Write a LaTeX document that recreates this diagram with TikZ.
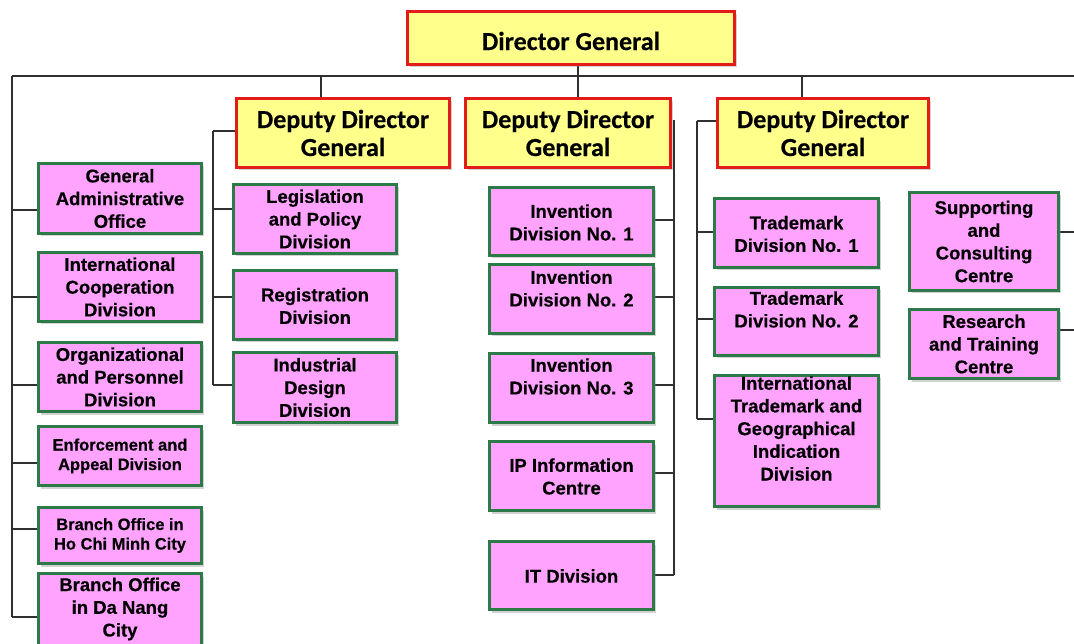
\documentclass[tikz,border=0pt]{standalone}
\usepackage{fontspec}
\setmainfont{Liberation Sans}[BoldFeatures={FakeBold=0.4}]
\newfontfamily\calfont{Carlito}[BoldFeatures={FakeBold=0.4}]
\usetikzlibrary{shadows,calc,backgrounds}
\definecolor{yfill}{HTML}{FFFF8C}
\definecolor{rborder}{HTML}{E41B1B}
\definecolor{pfill}{HTML}{FFA3FF}
\definecolor{gborder}{HTML}{2B7A47}
\definecolor{lineC}{HTML}{303030}
\tikzset{
 base/.style={rectangle, inner sep=0pt, outer sep=0pt, line width=3.2pt,
   drop shadow={opacity=0.35, shadow xshift=2.5pt, shadow yshift=-3pt}},
 ybox/.style={base, draw=rborder, fill=yfill},
 pbox/.style={base, draw=gborder, fill=pfill},
 ptext/.style={align=center, font=\fontsize{18.5}{22.7}\selectfont\bfseries, inner sep=0pt},
 stext/.style={align=center, font=\fontsize{16.5}{19.5}\selectfont\bfseries, inner sep=0pt},
 ytext/.style={align=center, font=\calfont\fontsize{26}{28}\selectfont\bfseries, inner sep=0pt},
 conn/.style={draw=lineC, line width=1.2pt},
}
\newcommand\orgbox[8]{%
 \node[#1, minimum width=#5pt, minimum height=#6pt] (#3) at (#4) {};
 \node[#2] (#3-t) at ($(#3.center)+(0,#7)$) {#8};}
\begin{document}
\begin{tikzpicture}[x=1pt,y=-1pt]
\useasboundingbox (0,0) rectangle (1074,644);

% boxes
\orgbox{ybox}{ytext}{dg}{571,38}{327}{53}{3}{Director General}
\orgbox{ybox}{ytext}{ddga}{343,133}{213}{69}{0}{Deputy Director\\General}
\orgbox{ybox}{ytext}{ddgb}{568,133}{205}{69}{0}{Deputy Director\\General}
\orgbox{ybox}{ytext}{ddgc}{823,133}{211}{69}{0}{Deputy Director\\General}

\orgbox{pbox}{ptext}{gao}{120,198.5}{163}{70}{0}{General\\Administrative\\Office}
\orgbox{pbox}{ptext}{icd}{120,287}{163}{69}{0}{International\\Cooperation\\Division}
\orgbox{pbox}{ptext}{opd}{120,377}{163}{69}{0}{Organizational\\and Personnel\\Division}
\orgbox{pbox}{stext}{ead}{120,456}{163}{59}{0}{Enforcement and\\Appeal Division}
\orgbox{pbox}{stext}{hcm}{120,535.5}{163}{56}{0}{Branch Office in\\Ho Chi Minh City}
\orgbox{pbox}{ptext}{dn}{120,611}{163}{75}{-2}{Branch Office\\in Da Nang\\City}

\orgbox{pbox}{ptext}{lpd}{315,219}{163}{69}{0}{Legislation\\and Policy\\Division}
\orgbox{pbox}{ptext}{reg}{315,305}{163}{69}{1}{Registration\\Division}
\orgbox{pbox}{ptext}{idd}{315,387.5}{163}{70}{0}{Industrial\\Design\\Division}

\orgbox{pbox}{ptext}{inva}{571.5,221.5}{164}{68}{1}{Invention\\Division No. 1}
\orgbox{pbox}{ptext}{invb}{571.5,299}{164}{69}{-10.5}{Invention\\Division No. 2}
\orgbox{pbox}{ptext}{invc}{571.5,388}{164}{69}{-11.5}{Invention\\Division No. 3}
\orgbox{pbox}{ptext}{ipc}{571.5,476}{164}{69}{0.5}{IP Information\\Centre}
\orgbox{pbox}{ptext}{itd}{571.5,575.5}{164}{68}{0.5}{IT Division}

\orgbox{pbox}{ptext}{tma}{796.5,233}{164}{69}{1}{Trademark\\Division No. 1}
\orgbox{pbox}{ptext}{tmb}{796.5,321.5}{164}{68}{-12}{Trademark\\Division No. 2}
\orgbox{pbox}{ptext}{itg}{796.5,441}{164}{131}{-12.5}{International\\Trademark and\\Geographical\\Indication\\Division}

\orgbox{pbox}{ptext}{scc}{984,241.5}{149}{98}{0}{Supporting\\and\\Consulting\\Centre}
\orgbox{pbox}{ptext}{rtc}{984,344}{149}{69}{0}{Research\\and Training\\Centre}

% connectors (behind boxes)
\begin{scope}[on background layer]
\fill[white] (0,0) rectangle (1074,644);
\coordinate (barL) at (12,76);
\coordinate (barR) at (1074,76);
\coordinate (leftEnd) at (12,617);
\coordinate (t1top) at (213,131);
\coordinate (t1bot) at (213,385);
\coordinate (t2top) at (674,120);
\coordinate (t2bot) at (674,575);
\coordinate (t3top) at (697,121);
\coordinate (t3bot) at (697,419);

\draw[conn] (barL) -- (barR);
\draw[conn] (dg.south -| 578,0) -- (ddgb.north -| 578,0);
\draw[conn] (barL -| 321,0) -- (ddga.north -| 321,0);
\draw[conn] (barL -| 802,0) -- (ddgc.north -| 802,0);
\draw[conn] (barL) -- (leftEnd);
\draw[conn] (t1top) -- (t1bot);
\draw[conn] (t1top) -- (ddga.west |- t1top);
\draw[conn] (t2top) -- (t2bot);
\draw[conn] (t3top) -- (t3bot);
\draw[conn] (t3top) -- (ddgc.west |- t3top);

% left column
\draw[conn] (12,210) -- (gao.west |- 12,210);
\draw[conn] (12,297) -- (icd.west |- 12,297);
\draw[conn] (12,385) -- (opd.west |- 12,385);
\draw[conn] (12,463) -- (ead.west |- 12,463);
\draw[conn] (12,529) -- (hcm.west |- 12,529);
\draw[conn] (leftEnd) -- (dn.west |- leftEnd);
% DDG1 column
\draw[conn] (213,209) -- (lpd.west |- 213,209);
\draw[conn] (213,297) -- (reg.west |- 213,297);
\draw[conn] (t1bot) -- (idd.west |- t1bot);
% DDG2 column
\draw[conn] (inva.east |- 674,220) -- (674,220);
\draw[conn] (invb.east |- 674,297) -- (674,297);
\draw[conn] (invc.east |- 674,385) -- (674,385);
\draw[conn] (ipc.east |- 674,473) -- (674,473);
\draw[conn] (itd.east |- t2bot) -- (t2bot);
% DDG3 column
\draw[conn] (697,232) -- (tma.west |- 697,232);
\draw[conn] (697,319) -- (tmb.west |- 697,319);
\draw[conn] (t3bot) -- (itg.west |- t3bot);
% right column
\draw[conn] (scc.east |- 1074,232) -- (1074,232);
\draw[conn] (rtc.east |- 1074,330) -- (1074,330);
\end{scope}
\end{tikzpicture}
\end{document}
